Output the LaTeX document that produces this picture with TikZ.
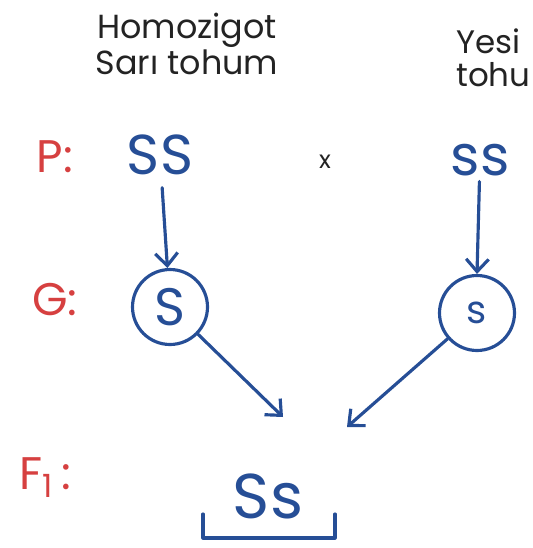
\documentclass[tikz,border=0pt]{standalone}
\usepackage{fontspec}
\setmainfont{Poppins}
\usetikzlibrary{arrows.meta, calc}
\definecolor{penblue}{RGB}{38,78,150}
\definecolor{penred}{RGB}{214,64,64}
\definecolor{penblack}{RGB}{35,35,35}
\tikzset{
  title/.style = {text=penblack, align=center, font=\fontsize{19}{19}\selectfont, inner sep=0pt},
  gen/.style = {text=penred, font=\fontsize{26}{26}\selectfont, inner sep=0pt},
  allele/.style = {text=penblue, font=\fontsize{32}{32}\selectfont, inner sep=1pt},
  gamete/.style = {circle, draw=penblue, line width=1.8pt, text=penblue, minimum size=1.5cm, inner sep=0pt, font=\fontsize{30}{30}\selectfont},
  line/.style = {-{Straight Barb[length=2.5mm, width=4.5mm]}, draw=penblue, line width=1.8pt, line cap=round},
  bracket/.style = {draw=penblue, line width=1.8pt, line cap=round, line join=round}
}
\begin{document}
\begin{tikzpicture}[x=0.02cm, y=-0.02cm]
\useasboundingbox (0,0) rectangle (533,548);

% Titles
\node[title] (lefttitle) at (187,44) {Homozigot\\Sarı tohum};
\node[title, align=left, anchor=west, font=\fontsize{18.5}{19}\selectfont] (righttitle) at (456,58) {Yesi\\tohu};

% P row
\node[gen] (P) at (55,157) {P:};
\node[allele] (SS) at (160,155) {SS};
\node[text=penblack, font=\fontsize{14}{14}\selectfont] (cross) at (325,162) {x};
\node[allele] (ss) at (480,160) {ss};

% G row
\node[gen] (G) at (55,300) {G:};
\node[gamete] (gS) at (170,307) {S};
\node[gamete, font=\fontsize{22}{22}\selectfont] (gs) at (477,313) {s};

\coordinate (meetL) at (283,417);
\coordinate (meetR) at (347,427);

% F1 row
\node[gen] (F) at (45,478) {F\textsubscript{1}\,:};
\node[allele, font=\fontsize{36}{36}\selectfont] (child) at (268,496) {Ss};

% Arrows
\draw[line, shorten <=6pt] (SS) -- (gS);
\draw[line, shorten <=2pt] (ss) -- (gs.north);
\draw[line] (gS) -- (meetL);
\draw[line] (gs) -- (meetR);

\draw[bracket] ($(child)+(-65,18)$) -- ($(child)+(-65,42)$) -- ($(child)+(67,42)$) -- ($(child)+(67,18)$);

\end{tikzpicture}
\end{document}
